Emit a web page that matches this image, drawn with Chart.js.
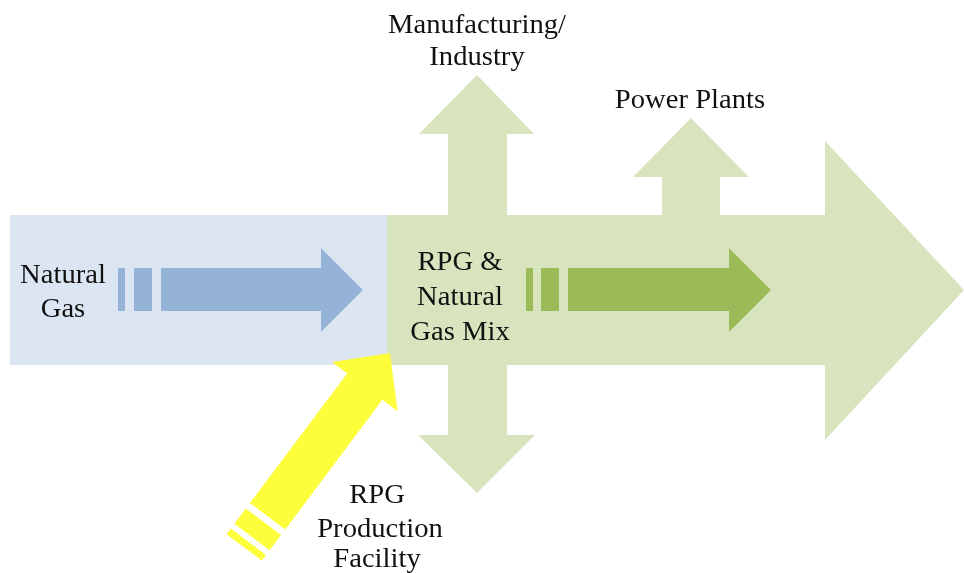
<!DOCTYPE html>
<html>
<head>
<meta charset="utf-8">
<script src="https://cdn.jsdelivr.net/npm/chart.js@4/dist/chart.umd.min.js"></script>
<style>
  html, body { margin: 0; padding: 0; background: #ffffff; }
  #wrap { width: 964px; height: 573px; position: relative; }
</style>
</head>
<body>
<div id="wrap"><canvas id="c"></canvas></div>
<script>
// ---- Shape outlines (diagram units = page pixels) ----
const naturalGasBox = [[10,215],[387,215],[387,365],[10,365]];
const mixFlow = [[387,215],[448,215],[448,134],[419,134],[477,75],[534,134],[507,134],[507,215],
                 [662,215],[662,177],[633,177],[691,118],[749,177],[720,177],[720,215],
                 [825,215],[825,141],[964,290],[825,440],[825,365],
                 [507,365],[507,435],[535,435],[477,493],[418,435],[448,435],[448,365],[387,365]];
const blueBar1 = [[118,268],[125,268],[125,311],[118,311]];
const blueBar2 = [[134,268],[152,268],[152,311],[134,311]];
const blueArrow = [[161,268],[321,268],[321,248],[363,290],[321,332],[321,311],[161,311]];
const greenBar1 = [[526,268],[533,268],[533,311],[526,311]];
const greenBar2 = [[541,268],[559,268],[559,311],[541,311]];
const greenArrow = [[568,268],[729,268],[729,248],[771,290],[729,332],[729,311],[568,311]];
const yellowArrow = [[390,353],[397.6,411.2],[382.4,399.8],[285.2,529.4],[250.0,503.0],[347.2,373.4],[332,362]];
const yellowBar2 = [[245.8,508.6],[281.0,535.0],[269.6,550.2],[234.4,523.8]];
const yellowBar1 = [[230.8,528.6],[266.0,555.0],[261.8,560.6],[226.6,534.2]];

// ---- Labels ----
const labelTexts = ["Natural","Gas","Manufacturing/","Industry","Power Plants",
                    "RPG &","Natural","Gas Mix","RPG","Production","Facility"];
const labelX = [63,63,477,477,690,460,460,460,377,380,377];
const labelY = [283,317,33,65,108,270,305,340,503,537,567];

const shapeList = [
  { pts: naturalGasBox, color: '#dce6f2' },
  { pts: mixFlow,       color: '#d7e4bd' },
  { pts: blueBar1,      color: '#95b3d7' },
  { pts: blueBar2,      color: '#95b3d7' },
  { pts: blueArrow,     color: '#95b3d7' },
  { pts: greenBar1,     color: '#9bbb59' },
  { pts: greenBar2,     color: '#9bbb59' },
  { pts: greenArrow,    color: '#9bbb59' },
  { pts: yellowArrow,   color: '#fdfd3c' },
  { pts: yellowBar2,    color: '#fdfd3c' },
  { pts: yellowBar1,    color: '#fdfd3c' }
];

const datasets = shapeList.map(s => ({
  data: s.pts.map(p => ({ x: p[0], y: p[1] })),
  backgroundColor: s.color,
  borderWidth: 0,
  pointRadius: 0,
  pointHoverRadius: 0,
  showLine: false
}));

const polygonPlugin = {
  id: 'polygonFill',
  beforeDatasetsDraw(chart) {
    const ctx = chart.ctx;
    chart.data.datasets.forEach((ds, i) => {
      const meta = chart.getDatasetMeta(i);
      const els = meta.data;
      if (!els.length) return;
      ctx.save();
      ctx.beginPath();
      els.forEach((el, k) => { if (k === 0) ctx.moveTo(el.x, el.y); else ctx.lineTo(el.x, el.y); });
      ctx.closePath();
      ctx.fillStyle = ds.backgroundColor;
      ctx.fill();
      ctx.restore();
    });
  }
};

const labelPlugin = {
  id: 'diagramLabels',
  afterDatasetsDraw(chart) {
    const ctx = chart.ctx;
    const xs = chart.scales.x, ys = chart.scales.y;
    ctx.save();
    ctx.font = '27px "Liberation Serif", "Times New Roman", serif';
    ctx.fillStyle = '#111111';
    ctx.textAlign = 'center';
    ctx.textBaseline = 'alphabetic';
    labelTexts.forEach((t, i) => {
      const px = xs.getPixelForValue(labelX[i]);
      const py = ys.getPixelForValue(labelY[i]);
      ctx.save();
      ctx.translate(px, py);
      ctx.scale(1.06, 1);
      ctx.fillText(t, 0, 0);
      ctx.restore();
    });
    ctx.restore();
  }
};

new Chart(document.getElementById('c'), {
  type: 'scatter',
  data: { datasets },
  options: {
    responsive: true,
    maintainAspectRatio: false,
    animation: false,
    events: [],
    layout: { padding: 0 },
    plugins: { legend: { display: false }, tooltip: { enabled: false } },
    scales: {
      x: { type: 'linear', min: 0, max: 964, display: false },
      y: { type: 'linear', min: 0, max: 573, reverse: true, display: false }
    }
  },
  plugins: [polygonPlugin, labelPlugin]
});
</script>
</body>
</html>
